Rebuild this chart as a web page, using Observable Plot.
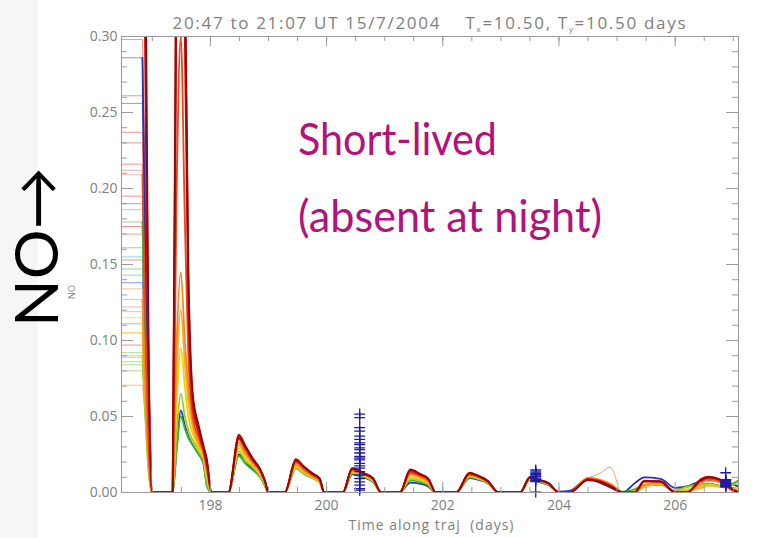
<!DOCTYPE html>
<html><head><meta charset="utf-8">
<script src="https://cdn.jsdelivr.net/npm/d3@7"></script>
<script src="https://cdn.jsdelivr.net/npm/@observablehq/plot@0.6"></script>
<style>html,body{margin:0;padding:0;background:#fff;overflow:hidden}</style>
</head><body><div id="chart"></div>
<script>
// ---- data ----
// time axis shared by the main trajectories (first point = end of the flat start)
const days = [196.83, 196.99,
  197.35, 197.42, 197.49, 197.56, 197.62, 197.70, 197.80, 197.88, 197.94, 198.02,
  198.31, 198.49, 198.60, 198.72, 198.86, 198.94, 199.00,
  199.28, 199.47, 199.60, 199.75, 199.88, 199.96,
  200.28, 200.44, 200.64, 200.80, 200.94,
  201.26, 201.44, 201.60, 201.75, 201.88,
  202.23, 202.46, 202.60, 202.78, 202.96,
  203.33, 203.50, 203.65, 203.82, 204.00,
  204.18, 204.50, 204.70, 204.90, 205.10,
  205.30, 205.47, 205.75, 206.00,
  206.20, 206.45, 206.57, 206.80, 207.00, 207.09];
const startDay = 196.47;

const seriesNames = ["blue","green","yellowgreen","yellow","gold","orange","orangered","red","crimson","darkred"];
const seriesColors = ["#2232b4","#3cb43c","#9ad11a","#efd400","#f6b020","#f38a2a","#e8481c","#d41010","#b80c0c","#980606"];

const noBlue = [0.286,0,
 0,0.03,0.054,0.044,0.037,0.031,0.025,0.019,0.005,0,
 0,0.025,0.020,0.016,0.011,0.005,0,
 0,0.016,0.013,0.010,0.007,0,
 0,0.012,0.010,0.007,0,
 0,0.0065,0.0058,0.004,0,
 0,0.0095,0.0085,0.006,0,
 0,0.0085,0.007,0.005,0.0005,
 0.001,0.009,0.0065,0.003,0,
 0.006,0.0099,0.009,0.003,
 0.004,0.0075,0.008,0.0075,0.005,0.004];
const noGreen = [0.178,0,
 0,0.028,0.050,0.042,0.036,0.031,0.025,0.02,0.004,0,
 0,0.024,0.019,0.015,0.010,0.004,0,
 0,0.016,0.0125,0.0095,0.0065,0,
 0,0.0125,0.010,0.0072,0,
 0,0.008,0.007,0.005,0,
 0,0.010,0.009,0.0062,0,
 0,0.0085,0.0072,0.0052,0,
 0,0.009,0.007,0.004,0.0005,
 0.002,0.005,0.005,0.001,
 0.004,0.0055,0.006,0.0045,0.006,0.008];
const noYellowGreen = [0.09,0,
 0,0.04,0.065,0.05,0.041,0.034,0.027,0.021,0.007,0,
 0,0.027,0.021,0.017,0.011,0.005,0,
 0,0.016,0.013,0.0098,0.0068,0,
 0,0.013,0.0105,0.0075,0,
 0,0.009,0.008,0.0056,0,
 0,0.0105,0.0092,0.0064,0,
 0,0.009,0.0075,0.0054,0,
 0,0.0092,0.0075,0.0045,0,
 0.001,0.004,0.0055,0.0012,
 0.0035,0.005,0.0055,0.004,0.005,0.007];
const noYellow = [0.115,0,
 0,0.06,0.095,0.07,0.05,0.038,0.029,0.023,0.01,0,
 0,0.029,0.023,0.018,0.012,0.006,0,
 0,0.017,0.0135,0.010,0.007,0,
 0,0.0135,0.011,0.0078,0,
 0,0.010,0.0088,0.006,0,
 0,0.011,0.0096,0.0066,0,
 0,0.0095,0.0078,0.0056,0,
 0,0.0098,0.0085,0.005,0,
 0.0008,0.0035,0.0058,0.0008,
 0.002,0.004,0.005,0.004,0.003,0.003];
const noGold = [0.105,0,
 0,0.08,0.12,0.085,0.06,0.042,0.031,0.024,0.012,0,
 0,0.031,0.025,0.019,0.013,0.0065,0,
 0,0.018,0.0142,0.0105,0.0075,0,
 0,0.014,0.0115,0.0082,0,
 0,0.0115,0.0098,0.007,0,
 0,0.012,0.0102,0.0068,0,
 0,0.0095,0.008,0.0058,0,
 0,0.0095,0.0085,0.0055,0,
 0,0.004,0.006,0.0005,
 0.001,0.003,0.0045,0.0035,0.002,0.002];
const noOrange = [0.127,0,
 0,0.1,0.145,0.1,0.07,0.046,0.033,0.026,0.014,0,
 0,0.033,0.026,0.020,0.0135,0.0068,0,
 0,0.019,0.015,0.011,0.0078,0,
 0,0.0145,0.012,0.0085,0,
 0,0.0125,0.0105,0.0075,0,
 0,0.0118,0.0102,0.0068,0,
 0,0.0098,0.0082,0.006,0,
 0,0.0096,0.0082,0.005,0,
 0,0.005,0.0065,0.0005,
 0,0.006,0.0085,0.006,0.002,0.001];
const noOrangeRed = [0.209,0,
 0,0.2,0.3,0.18,0.09,0.05,0.036,0.027,0.016,0,
 0,0.035,0.028,0.021,0.014,0.007,0,
 0,0.020,0.016,0.0115,0.0082,0,
 0,0.015,0.012,0.0088,0,
 0,0.013,0.011,0.008,0,
 0,0.012,0.0105,0.007,0,
 0,0.0098,0.0082,0.006,0,
 0,0.009,0.0078,0.0045,0,
 0,0.0072,0.0068,0,
 0,0.008,0.009,0.007,0.0015,0];
const noRed = [0.5,0,
 0,0.35,0.6,0.3,0.12,0.056,0.039,0.028,0.018,0,
 0,0.037,0.030,0.022,0.0145,0.007,0,
 0,0.021,0.017,0.0125,0.009,0,
 0,0.0155,0.0125,0.009,0,
 0,0.014,0.0118,0.0088,0,
 0,0.0125,0.011,0.0072,0,
 0,0.010,0.0082,0.006,0,
 0,0.0088,0.0075,0.004,0,
 0,0.0078,0.007,0,
 0,0.009,0.0105,0.0075,0.001,0];
const noCrimson = [0.6,0,
 0,0.4,0.7,0.34,0.14,0.06,0.042,0.03,0.02,0,
 0,0.038,0.031,0.023,0.015,0.0075,0,
 0,0.022,0.0175,0.0128,0.0092,0,
 0,0.016,0.0128,0.0092,0,
 0,0.0148,0.0122,0.009,0,
 0,0.013,0.0112,0.0074,0,
 0,0.0102,0.0083,0.0061,0,
 0,0.0085,0.0072,0.0038,0,
 0,0.0076,0.0072,0,
 0,0.0085,0.0102,0.008,0.0015,0];
const noDarkRed = [0.7,0,
 0,0.45,0.8,0.36,0.15,0.064,0.044,0.031,0.022,0,
 0,0.036,0.030,0.0225,0.015,0.0078,0,
 0,0.0215,0.0172,0.0126,0.0093,0,
 0,0.0158,0.0126,0.0094,0,
 0,0.0152,0.0124,0.0092,0,
 0,0.0128,0.0112,0.0075,0,
 0,0.010,0.0084,0.0062,0,
 0,0.0082,0.007,0.0035,0,
 0,0.0074,0.0075,0,
 0,0.0082,0.0098,0.0082,0.002,0];

// thin pale-orange trajectory with a late bump near day 204.9
const outlierDays = [204.18, 204.50, 204.70, 204.88, 204.95, 205.04];
const outlierValues = [0, 0.0095, 0.0125, 0.0165, 0.0125, 0];

// initial levels of all trajectories (thin flat lines at the start)
const startLevels = [0.298,0.286,0.261,0.256,0.237,0.23,0.216,0.212,0.209,0.195,0.19,0.186,0.178,0.175,0.170,0.161,0.155,0.153,0.147,0.143,0.138,0.134,0.127,0.122,0.119,0.115,0.111,0.105,0.105,0.097,0.092,0.090,0.089,0.086,0.084,0.080,0.0706];
const startColors = ["#e04040","#3040c0","#e04040","#3040c0","#e04040","#e04040","#e04040","#e86060","#f07070","#e04040","#e04040","#40b0c0","#40b040","#e04040","#e86060","#40b040","#40b0c0","#e04040","#40b040","#40b0c0","#3040c0","#f09040","#f09040","#f08080","#f09040","#e8d020","#40b040","#e8d020","#f0b040","#e04040","#70c040","#90d040","#70c040","#70c040","#70c040","#70c040","#f09040"];

// "+" markers
const markDays = [200.57, 203.6, 206.87];
const markA = [0.0516,0.0493,0.0427,0.0404,0.0371,0.0350,0.0327,0.0315,0.0293,0.0282,0.0260,0.0237,0.0226,0.0215,0.0192,0.0175,0.0160,0.0137,0.0115,0.0092,0.0070,0.0048,0.0026,0.0015];
const markB = [0.0148,0.0135,0.0125,0.0118,0.0110,0.0105,0.0095,0.0088,0.0080,0.0072,0.0003];
const markC = [0.0130,0.0085,0.0080,0.0075,0.0070,0.0065,0.0060,0.0055,0.0050,0.0045,0.0040,0.0035];

const yMajor = [0, 0.05, 0.10, 0.15, 0.20, 0.25, 0.30];
const yMinor = d3.range(0, 31).map(i => i / 100);
const xMajor = [198, 200, 202, 204, 206];
const xMinor = [197, 197.5, 198, 198.5, 199, 199.5, 200, 200.5, 201, 201.5, 202, 202.5, 203, 203.5, 204, 204.5, 205, 205.5, 206, 206.5, 207];

// ---- build tables ----
const seriesValues = [noBlue,noGreen,noYellowGreen,noYellow,noGold,noOrange,noOrangeRed,noRed,noCrimson,noDarkRed];
const rows = [];
seriesValues.forEach((vals, s) => vals.forEach((v, i) => rows.push({s: seriesNames[s], c: seriesColors[s], t: days[i], v})));
const outlierRows = outlierDays.map((t, i) => ({t, v: outlierValues[i]}));
const startRows = [];
startLevels.forEach((lv, k) => {
  startRows.push({k, c: startColors[k], t: startDay, v: lv});
  startRows.push({k, c: startColors[k], t: days[0], v: lv});
  startRows.push({k, c: startColors[k], t: days[1], v: noBlue[1]});
});
const marks = [];
[markA, markB, markC].forEach((arr, j) => arr.forEach(v => marks.push({t: markDays[j], v})));

const W = 757, H = 538, mL = 121, mR = 19, mT = 36, mB = 46;
const pw = W - mL - mR, ph = H - mT - mB;
const grey = "#9a9a9a";

const plot = Plot.plot({
  width: W, height: H,
  marginLeft: mL, marginRight: mR, marginTop: mT, marginBottom: mB,
  x: {domain: [196.47, 207.09]},
  y: {domain: [0, 0.30]},
  color: {type: "identity"},
  style: {background: "transparent", fontFamily: "Open Sans", fontSize: "14px", color: "#808080"},
  marks: [
    Plot.line(startRows, {x: "t", y: "v", z: "k", stroke: "c", strokeWidth: 1, strokeOpacity: 0.55, clip: true}),
    Plot.line(outlierRows, {x: "t", y: "v", stroke: "#f3a060", strokeWidth: 1, curve: "monotone-x", clip: true}),
    Plot.line(rows, {x: "t", y: "v", z: "s", stroke: "c", strokeWidth: 1.8, curve: "monotone-x", clip: true}),
    Plot.dot(marks, {x: "t", y: "v", symbol: "plus", r: 3.6, stroke: "#1c1ca0", strokeWidth: 1.3}),
    Plot.frame({stroke: grey}),
    Plot.tickY(yMinor, {y: d => d, insetRight: pw - 6, stroke: grey}),
    Plot.tickY(yMajor, {y: d => d, insetRight: pw - 12, stroke: grey}),
    Plot.tickY(yMinor, {y: d => d, insetLeft: pw - 6, stroke: grey}),
    Plot.tickY(yMajor, {y: d => d, insetLeft: pw - 12, stroke: grey}),
    Plot.tickX(xMinor, {x: d => d, insetTop: ph - 5, stroke: grey}),
    Plot.tickX(xMajor, {x: d => d, insetTop: ph - 10, stroke: grey}),
    Plot.tickX(xMinor, {x: d => d, insetBottom: ph - 5, stroke: grey}),
    Plot.tickX(xMajor, {x: d => d, insetBottom: ph - 10, stroke: grey}),
    Plot.axisY({ticks: yMajor, tickSize: 0, tickPadding: 4, tickFormat: d => d.toFixed(2), label: null}),
    Plot.axisX({ticks: xMajor, tickSize: 0, tickPadding: 8, tickFormat: d => String(d), label: null})
  ]
});

const svg = d3.select(plot);
svg.insert("rect", ":first-child").attr("x", 0).attr("y", 0).attr("width", 38).attr("height", H).attr("fill", "#f6f6f6");

// title
const title = svg.append("text").attr("x", 429).attr("y", 29).attr("text-anchor", "middle")
  .attr("font-family", "Open Sans").attr("font-size", 17).attr("fill", "#808080")
  .attr("textLength", 513).attr("lengthAdjust", "spacing");
title.append("tspan").text("20:47 to 21:07 UT 15/7/2004\u00a0\u00a0\u00a0\u00a0T");
title.append("tspan").attr("font-size", 8).attr("dy", 3).text("x");
title.append("tspan").attr("dy", -3).text("=10.50, T");
title.append("tspan").attr("font-size", 8).attr("dy", 3).text("y");
title.append("tspan").attr("dy", -3).text("=10.50 days");

// x label
svg.append("text").attr("x", 431).attr("y", 530).attr("text-anchor", "middle")
  .attr("font-family", "Open Sans").attr("font-size", 14).attr("fill", "#808080")
  .attr("textLength", 165).attr("lengthAdjust", "spacing")
  .text("Time along traj\u00a0\u00a0(days)");

// small y label
svg.append("text").attr("transform", "translate(75,292) rotate(-90)").attr("text-anchor", "middle")
  .attr("font-family", "Open Sans").attr("font-size", 9).attr("fill", "#808080").text("NO");

// big NO arrow label
svg.append("text").attr("transform", "translate(58,327) rotate(-90)").attr("text-anchor", "start")
  .attr("font-family", "Lato").attr("font-size", 60).attr("fill", "#000")
  .attr("textLength", 160).attr("lengthAdjust", "spacingAndGlyphs").text("NO\u2192");

// magenta annotation
svg.append("text").attr("x", 298).attr("y", 155).attr("text-anchor", "start").attr("font-family", "Lato").attr("font-size", 44)
  .attr("fill", "#b3127a").attr("textLength", 199).attr("lengthAdjust", "spacingAndGlyphs").text("Short-lived");
svg.append("text").attr("x", 298).attr("y", 232).attr("text-anchor", "start").attr("font-family", "Lato").attr("font-size", 44)
  .attr("fill", "#b3127a").attr("textLength", 304).attr("lengthAdjust", "spacingAndGlyphs").text("(absent at night)");

document.getElementById("chart").appendChild(plot);
</script>
</body></html>
